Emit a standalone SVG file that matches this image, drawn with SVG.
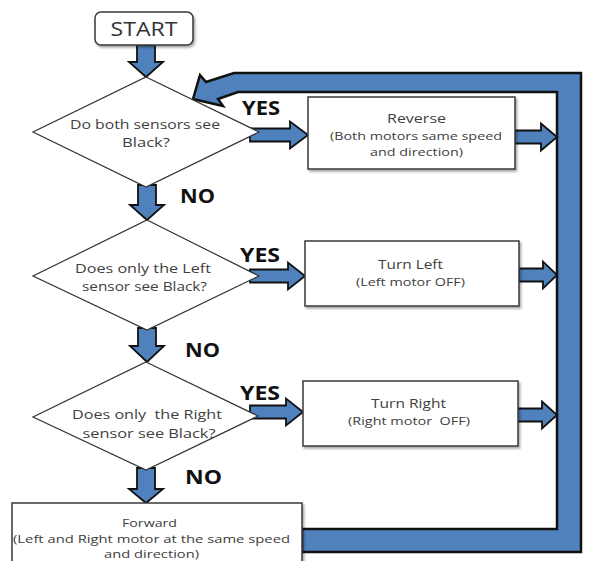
<svg xmlns="http://www.w3.org/2000/svg" width="597" height="561" viewBox="0 0 597 561">
<defs>
<filter id="sh" x="-10%" y="-10%" width="130%" height="140%">
<feDropShadow dx="1.5" dy="2" stdDeviation="1.2" flood-color="#000" flood-opacity="0.35"/>
</filter>
<style>
.box{fill:#fff;stroke:#3a3a3a;stroke-width:1.5;filter:url(#sh)}
.dia{fill:#fff;stroke:#333;stroke-width:1.2}
.arr{fill:#4F81BD;stroke:#111;stroke-width:1.8;stroke-linejoin:miter}
.band{fill:#4F81BD;stroke:#111;stroke-width:2.5;stroke-linejoin:miter}
.t{font-family:"Open Sans","Liberation Sans",sans-serif;font-size:13.5px;fill:#404040;text-anchor:middle;white-space:pre}
.s{font-size:11.5px}
.lb{font-family:"Open Sans","Liberation Sans",sans-serif;font-weight:bold;font-size:19px;fill:#111}
</style>
</defs>
<rect width="597" height="561" fill="#fff"/>
<g id="connectors">
<path class="band" d="M302,552 L581,552 L581,73 L234,73 L206,82 L200,75 L193,99 L223,106 L218,99 L238,92 L557,92 L557,529 L302,529 Z"/>
<path class="arr" d="M137,45 H155 V62 H163 L146,77 L129,62 H137 Z"/>
<path class="arr" d="M138,185 H156 V205 H164 L147,220 L130,205 H138 Z"/>
<path class="arr" d="M138,328 H156 V346 H164 L147,362 L130,346 H138 Z"/>
<path class="arr" d="M137,468 H155 V489 H163 L146,503 L129,489 H137 Z"/>
<path class="arr" d="M250,128.5 H290 V121.5 L308,135 L290,148.5 V141.5 H250 Z"/>
<path class="arr" d="M250,269.5 H288 V262.5 L305,276 L288,289.5 V282.5 H250 Z"/>
<path class="arr" d="M250,405.5 H286 V398.5 L303,412 L286,425.5 V418.5 H250 Z"/>
<path class="arr" d="M515,130.5 H541 V123.5 L557,137 L541,150.5 V143.5 H515 Z"/>
<path class="arr" d="M519,268.5 H543 V261.5 L557,275 L543,288.5 V281.5 H519 Z"/>
<path class="arr" d="M517,408.5 H542 V401.5 L557,415 L542,428.5 V421.5 H517 Z"/>
<text class="lb" x="242" y="115" textLength="38" lengthAdjust="spacingAndGlyphs">YES</text>
<text class="lb" x="240" y="262" textLength="40" lengthAdjust="spacingAndGlyphs">YES</text>
<text class="lb" x="240" y="400" textLength="40" lengthAdjust="spacingAndGlyphs">YES</text>
<text class="lb" x="180" y="203" textLength="35" lengthAdjust="spacingAndGlyphs">NO</text>
<text class="lb" x="185" y="357" textLength="35" lengthAdjust="spacingAndGlyphs">NO</text>
<text class="lb" x="185" y="484" textLength="37" lengthAdjust="spacingAndGlyphs">NO</text>
</g>
<g id="start">
<rect class="box" x="95" y="12" width="98" height="33" rx="6"/>
<text class="t" x="144" y="36" style="font-size:20px;fill:#333" textLength="67" lengthAdjust="spacingAndGlyphs">START</text>
</g>
<g id="decision1">
<polygon class="dia" points="146,77 259,132 146,187 33,132"/>
<text class="t" x="145" y="129" textLength="150" lengthAdjust="spacingAndGlyphs">Do both sensors see</text>
<text class="t" x="146" y="147" textLength="48" lengthAdjust="spacingAndGlyphs">Black?</text>
</g>
<g id="decision2">
<polygon class="dia" points="147,220 259,276 147,330 33,276"/>
<text class="t" x="143" y="273" textLength="136" lengthAdjust="spacingAndGlyphs">Does only the Left</text>
<text class="t" x="144.5" y="291" textLength="125" lengthAdjust="spacingAndGlyphs">sensor see Black?</text>
</g>
<g id="decision3">
<polygon class="dia" points="146,362 258,416 146,470 33,417"/>
<text class="t" x="147" y="419" textLength="150" lengthAdjust="spacingAndGlyphs">Does only  the Right</text>
<text class="t" x="149" y="438" textLength="133" lengthAdjust="spacingAndGlyphs">sensor see Black?</text>
</g>
<g id="reverse">
<rect class="box" x="308" y="97" width="207" height="72"/>
<text class="t s" x="416.5" y="123" textLength="59" lengthAdjust="spacingAndGlyphs" style="font-size:12.5px">Reverse</text>
<text class="t s" x="416" y="140" textLength="172" lengthAdjust="spacingAndGlyphs">(Both motors same speed</text>
<text class="t s" x="416.5" y="156" textLength="93" lengthAdjust="spacingAndGlyphs">and direction)</text>
</g>
<g id="turnleft">
<rect class="box" x="305" y="241" width="214" height="65"/>
<text class="t" x="410.5" y="269" textLength="65" lengthAdjust="spacingAndGlyphs" style="font-size:12.5px">Turn Left</text>
<text class="t s" x="410.5" y="286" textLength="109" lengthAdjust="spacingAndGlyphs">(Left motor OFF)</text>
</g>
<g id="turnright">
<rect class="box" x="303" y="381" width="215" height="65"/>
<text class="t s" x="408.5" y="408" textLength="75" lengthAdjust="spacingAndGlyphs" style="font-size:12px">Turn Right</text>
<text class="t s" x="409" y="425" textLength="122" lengthAdjust="spacingAndGlyphs">(Right motor  OFF)</text>
</g>
<g id="forward">
<rect class="box" x="12" y="503" width="290" height="70"/>
<text class="t s" x="149.5" y="527" textLength="55" lengthAdjust="spacingAndGlyphs">Forward</text>
<text class="t s" x="151.5" y="543" textLength="277" lengthAdjust="spacingAndGlyphs">(Left and Right motor at the same speed</text>
<text class="t s" x="151.5" y="558" textLength="95" lengthAdjust="spacingAndGlyphs">and direction)</text>
</g>
</svg>
